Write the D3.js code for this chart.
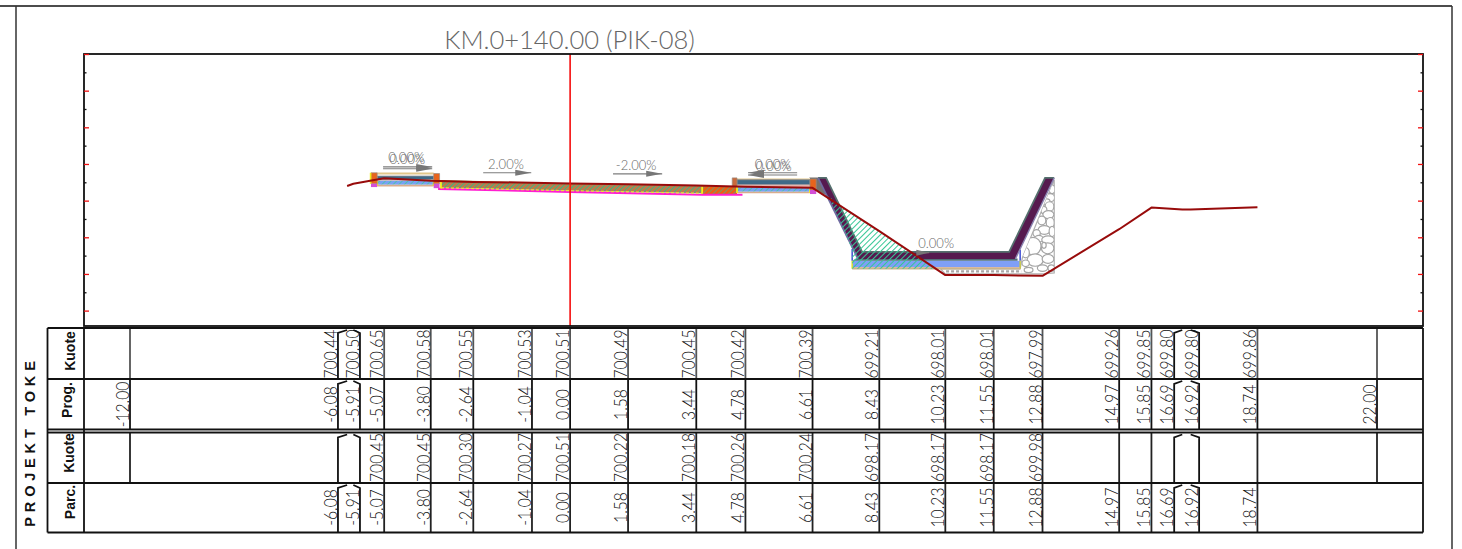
<!DOCTYPE html>
<html><head><meta charset="utf-8">
<script src="https://cdnjs.cloudflare.com/ajax/libs/d3/7.8.5/d3.min.js"></script>
<style>html,body{margin:0;padding:0;background:#fff;overflow:hidden}svg{display:block}</style>
</head><body><svg id="c" width="1462" height="549"></svg>
<script>
// ---------- data (offset in m, elevation in m) ----------
const title = "KM.0+140.00 (PIK-08)";
const tableOffsets = [-12,-6.08,-5.91,-5.07,-3.80,-2.64,-1.04,0,1.58,3.44,4.78,6.61,8.43,10.23,11.55,12.88,14.97,15.85,16.69,16.92,18.74,22];
const tableShown   = [-12,-6.33,-5.73,-5.07,-3.80,-2.64,-1.04,0,1.58,3.44,4.78,6.61,8.43,10.23,11.55,12.88,14.97,15.85,16.47,17.15,18.74,22];
const groundKuote  = [null,700.44,700.50,700.65,700.58,700.55,700.53,700.51,700.49,700.45,700.42,700.39,699.21,698.01,698.01,697.99,699.26,699.85,699.80,699.80,699.86,null];
const projectKuote = [null,null,null,700.45,700.45,700.30,700.27,700.51,700.22,700.18,700.26,700.24,698.17,698.17,698.17,699.98,null,null,null,null,null,null];
const parcOffsets  = [null,-6.08,-5.91,-5.07,-3.80,-2.64,-1.04,0,1.58,3.44,4.78,6.61,8.43,10.23,11.55,12.88,14.97,15.85,16.69,16.92,18.74,null];
const rowNames = ["Kuote","Prog.","Kuote","Parc."];
const redTicks = [704.04,703.04,702.04,701.04,700.04,699.04,698.04,697.04];
const blackTicks = [703.54,702.54,701.54,700.54,699.54,698.54,697.54];

const polyStones = [[13.20,700.60],[13.20,698.07],[12.90,698.04],[10.23,698.04],[10.10,698.18],[12.27,698.18],[12.33,698.48]];
const stones = [[13.14,700.35,.08,.12],[13.09,700.12,.12,.11],[13.00,700.00,.09,.09],[13.07,699.88,.12,.13],[12.92,699.78,.08,.10],[13.04,699.66,.15,.11],[12.86,699.50,.11,.12],[13.09,699.44,.11,.14],[12.93,699.24,.17,.12],[13.14,699.20,.08,.14],[12.72,699.15,.10,.10],[12.78,699.00,.12,.09],[13.03,698.97,.17,.11],[12.62,698.80,.22,.24],[13.02,698.74,.17,.15],[12.92,698.82,.06,.08],[12.42,698.62,.10,.14],[12.68,698.42,.22,.17],[13.03,698.45,.16,.12],[12.42,698.33,.10,.09],[12.88,698.20,.14,.09],[12.50,698.15,.12,.07],[13.12,698.20,.09,.09]];
const floorBlue = [[7.69,698.40],[12.27,698.40],[12.27,698.23],[7.69,698.23]];
const floorBase = [[7.69,698.23],[12.27,698.23],[12.27,698.18],[7.69,698.18]];
const floorTeal = [[7.80,698.46],[12.20,698.46],[12.20,698.40],[7.69,698.40]];
const capRight = [[6.52,700.67],[6.98,700.67],[7.15,700.30],[6.95,700.20],[6.70,700.33]];
const lining = [[6.76,700.66],[6.98,700.66],[7.96,698.64],[11.97,698.64],[12.95,700.66],[13.20,700.66],[12.14,698.45],[7.85,698.45]];
const fillHatch = [[7.23,700.01],[7.96,698.64],[9.30,698.64]];
const cutHatch = [[7.04,700.17],[7.23,700.01],[7.96,698.64],[9.30,698.64],[10.01,698.18],[7.69,698.18],[7.69,698.70]];
const road = [[-3.52,700.60],[0,700.51],[3.60,700.44],[3.60,700.24],[0,700.31],[-3.52,700.39]];
const roadEnd = [[3.60,700.44],[4.55,700.42],[4.55,700.21],[3.60,700.21]];
const roadMagenta = [[-3.60,700.36],[0,700.28],[3.60,700.20],[4.70,700.20]];
const walkLeft = {x0:-5.26,x1:-3.72,top:700.82,band:[700.71,700.61],blue:[700.58,700.47],base:700.44,curbTop:700.82,curbBot:700.50,magenta:700.41};
const walkRight = {x0:4.55,x1:6.54,top:700.66,band:[700.61,700.47],blue:[700.41,700.28],base:700.25,curbTop:700.63,curbBot:700.33,magenta:700.22};
const ground = [[-6.08,700.44],[-5.91,700.50],[-5.07,700.65],[-3.80,700.58],[-2.64,700.55],[-1.04,700.53],[0,700.51],[1.58,700.49],[3.44,700.45],[4.78,700.42],[6.61,700.39],[8.43,699.21],[10.23,698.01],[11.55,698.01],[12.88,697.99],[14.97,699.26],[15.85,699.85],[16.69,699.80],[16.92,699.80],[18.74,699.86]];
const slopeLabels = [["0.00%",-4.47,701.10],["0.00%",-4.44,701.04],["2.00%",-1.75,700.91],["-2.00%",1.80,700.88],["0.00%",5.52,700.91],["0.00%",5.55,700.85],["0.00%",9.98,698.75]];
const slopeArrows = [[-5.10,-3.76,700.96],[-5.10,-3.76,700.91],[-2.37,-1.06,700.80],[1.17,2.51,700.77],[6.19,4.85,700.80],[6.19,4.85,700.74],[9.44,9.79,698.62]];

// ---------- scales ----------
const x = d3.scaleLinear().domain([-12,22]).range([130,1377]);
const y = d3.scaleLinear().domain([704.04,696.62]).range([54,326]);
const line = d3.line().x(d=>x(d[0])).y(d=>y(d[1]));
const closed = pts => line(pts)+"Z";
const svg = d3.select("#c");
const defs = svg.append("defs");
const NUM = "Lato, 'Open Sans', sans-serif";

function hatch(id, bg, fg, w, sw){
  const p = defs.append("pattern").attr("id",id).attr("patternUnits","userSpaceOnUse")
    .attr("width",w).attr("height",w).attr("patternTransform","rotate(45)");
  if(bg) p.append("rect").attr("width",w).attr("height",w).attr("fill",bg);
  p.append("line").attr("x1",0).attr("x2",0).attr("y1",0).attr("y2",w).attr("stroke",fg).attr("stroke-width",sw);
}
hatch("hGreen",null,"#35c795",4,2);
hatch("hRoad","#c0794a","#3fb57f",3.6,2);
hatch("hOrange","#ea5f14","#5aa77f",3.6,1.4);
hatch("hBlue","#79a2f5","#43c8a0",4,1.6);

// ---------- sheet frame ----------
const G = svg.append("g");
const rule = (a,b,c,d,col,w)=>G.append("line").attr("x1",a).attr("y1",b).attr("x2",c).attr("y2",d).attr("stroke",col).attr("stroke-width",w);
rule(0,6,1452,6,"#111",1.3);
rule(16,6,16,549,"#333",1.5);
rule(1452,6,1452,549,"#333",1.5);

G.append("text").attr("x",569.5).attr("y",49).attr("text-anchor","middle")
  .attr("font-family",NUM).attr("font-weight",300).attr("font-size",25.5).attr("fill","#666").text(title);

// ---------- section drawing ----------
const poly = (pts,fill,stroke,sw)=>G.append("path").attr("d",closed(pts)).attr("fill",fill).attr("stroke",stroke||"none").attr("stroke-width",sw||0);
const path = (pts,stroke,sw,dash)=>G.append("path").attr("d",line(pts)).attr("fill","none").attr("stroke",stroke).attr("stroke-width",sw).attr("stroke-dasharray",dash||null);

defs.append("clipPath").attr("id","stoneClip").append("path").attr("d",closed(polyStones));
poly(polyStones,"#fff","#b0b0b0",1.2);
G.append("g").attr("clip-path","url(#stoneClip)").selectAll("ellipse").data(stones).join("ellipse")
  .attr("cx",d=>x(d[0])).attr("cy",d=>y(d[1]))
  .attr("rx",d=>x(d[2])-x(0)).attr("ry",d=>y(700-d[3])-y(700))
  .attr("fill","#fff").attr("stroke","#a5a5a5").attr("stroke-width",1.2);
path([[10.25,698.11],[12.30,698.11]],"#a8a8a8",2.2,"3 2");

poly(floorBlue,"#7f9ff7");
poly(floorBase,"#d9b9a0");
poly(floorTeal,"#4f6f78");
path([[7.69,698.72],[7.69,698.40]],"#2233cc",1.3);
path([[12.27,698.70],[12.27,698.40]],"#2233cc",1.3);
path([[7.69,698.40],[7.69,698.18]],"#e3e01e",1.4);
path([[12.27,698.40],[12.27,698.18]],"#c9c93a",1.4);
path(floorBase.slice(2),"#c8b48c",1.4);

poly(capRight,"#76706c");
poly(lining,"#561a4f");
path([lining[0],lining[1],lining[2],lining[3],lining[4],lining[5]],"#55706e",1.8);
path([lining[5],lining[6]],"#8a84b0",1.4);
path([lining[7],lining[0]],"#6e6aa0",1.8);

poly(fillHatch,"url(#hGreen)");
poly(cutHatch,"url(#hGreen)");

// road
poly(road,"url(#hRoad)");
poly(roadEnd,"url(#hOrange)");
path(roadMagenta,"#ff1fd0",2.2);
path(road.slice(3).concat([road[5]]).reverse(),"#e7e33a",1.2,"3 2");
[-3.52,0,3.60].forEach((o,i)=>path([[o,[700.58,700.49,700.42][i]],[o,[700.37,700.30,700.23][i]]],"#f2ee1a",1.8));

// sidewalks
function walk(w){
  poly([[w.x0,w.top],[w.x1,w.top],[w.x1,w.base],[w.x0,w.base]],"#fff");
  path([[w.x0,w.top-.04],[w.x1,w.top-.04]],"#e2c68a",1.8);
  poly([[w.x0,w.band[0]],[w.x1,w.band[0]],[w.x1,w.band[1]],[w.x0,w.band[1]]],"#3f6a88","#8d8d8d",.8);
  poly([[w.x0,w.band[1]],[w.x1,w.band[1]],[w.x1,w.blue[0]],[w.x0,w.blue[0]]],"#e7b3ad");
  poly([[w.x0,w.blue[0]],[w.x1,w.blue[0]],[w.x1,w.blue[1]],[w.x0,w.blue[1]]],"url(#hBlue)");
  path([[w.x0,w.base+.01],[w.x1,w.base+.01]],"#d9ad8e",1.6);
  path([[w.x0,w.blue[0]],[w.x0,w.base]],"#f0ec1a",1.8);
  path([[w.x1,w.blue[0]],[w.x1,w.base]],"#f0ec1a",1.8);
}
walk(walkLeft); walk(walkRight);
const curb = (a,b,t,bm,mag,col)=>{
  poly([[a,t],[b,t],[b,bm],[a,bm]],col||"#e8641c","#9a8a80",.7);
  poly([[a,bm],[b,bm],[b,mag],[a,mag]],"#d34fd6");
};
curb(-5.43,-5.26,700.80,700.50,700.41);
path([[-5.44,700.80],[-5.44,700.50]],"#f0ec1a",1.6);
curb(-3.72,-3.56,700.78,700.50,700.38);
curb(4.42,4.55,700.66,700.43,700.43,"#c96a3c");
curb(6.54,6.71,700.63,700.33,700.22);

// ground
path(ground,"#980b0b",2).attr("stroke-linejoin","round");

// slope labels and arrows
G.append("g").selectAll("text").data(slopeLabels).join("text")
  .attr("x",d=>x(d[1])).attr("y",d=>y(d[2])).attr("text-anchor","middle")
  .attr("font-family",NUM).attr("font-weight",300).attr("font-size",13).attr("fill","#666").text(d=>d[0]);
slopeArrows.forEach(a=>{
  const x0=x(a[0]),x1=x(a[1]),yy=y(a[2]),dir=x1>x0?1:-1,h=dir*Math.min(16,Math.abs(x1-x0));
  G.append("line").attr("x1",x0).attr("x2",x1).attr("y1",yy).attr("y2",yy).attr("stroke","#7d7d7d").attr("stroke-width",1.1);
  G.append("path").attr("d",`M${x1},${yy}L${x1-h},${yy-3}L${x1-h},${yy+3}Z`).attr("fill","#777");
});

// red axis
rule(x(0),54,x(0),326,"#f50d0d",1.6);

// ---------- plot frame and axes ----------
G.append("rect").attr("x",84).attr("y",54).attr("width",1339).attr("height",272).attr("fill","none").attr("stroke","#111").attr("stroke-width",1.8);
const axes = [[d3.axisRight(y),84],[d3.axisLeft(y),1423]];
axes.forEach(([ax,px])=>{
  [[redTicks,5,"#f01010"],[blackTicks,2.5,"#111"]].forEach(([vals,len,col])=>{
    const g = G.append("g").attr("transform",`translate(${px},0)`)
      .call(ax.tickValues(vals).tickSize(len).tickFormat(""));
    g.select(".domain").remove();
    g.selectAll(".tick line").attr("stroke",col).attr("stroke-width",1.3);
  });
});

// ---------- table ----------
const rows = [
 {top:328,bot:379,mid:354,  vals:groundKuote.map(v=>v==null?null:v.toFixed(2)), col:"#555", lines:tableOffsets.map(()=>true)},
 {top:379,bot:429.5,mid:404.5,vals:tableOffsets.map(v=>v.toFixed(2)), col:"#111", lines:tableOffsets.map(()=>true)},
 {top:432.5,bot:483,mid:457.5,vals:projectKuote.map(v=>v==null?null:v.toFixed(2)), col:"#222", lines:tableOffsets.map(()=>true)},
 {top:483,bot:532.5,mid:507.5,vals:parcOffsets.map(v=>v==null?null:v.toFixed(2)), col:"#222", lines:parcOffsets.map(v=>v!=null)}
];
const hdr = [[75,351],[72,400],[74,453],[75,502]];
rows.forEach((r,ri)=>{
  tableOffsets.forEach((o,i)=>{
    if(!r.lines[i]) return;
    const tx=x(o), sx=x(tableShown[i]);
    const chev = tx!==sx;
    const d = chev ? `M${tx},${r.top+2}L${sx},${r.top+5}V${r.bot}` : `M${sx},${r.top}V${r.bot}`;
    G.append("path").attr("d",d).attr("fill","none").attr("stroke",chev?"#111":r.col).attr("stroke-width",1.8);
    if(r.vals[i]!=null){
      G.append("text").attr("transform",`translate(${sx-1},${r.mid}) rotate(-90) scale(0.92,1)`).attr("text-anchor","middle")
        .attr("font-family",NUM).attr("font-weight",300).attr("font-size",17).attr("fill","#111").text(r.vals[i]);
    }
  });
  G.append("text").attr("transform",`translate(${hdr[ri][0]},${hdr[ri][1]}) rotate(-90)`).attr("text-anchor","middle")
    .attr("font-family","'Liberation Sans',Arial,sans-serif").attr("font-weight",700).attr("font-size",14).attr("fill","#111").text(rowNames[ri]);
});
[328,379,429.5,432.5,483,532.5].forEach(v=>rule(47.5,v,1423,v,"#111",1.8));
rule(47.5,431,1423,431,"#999",1.5);
rule(47.5,328,47.5,532.5,"#111",1.8);
rule(84,328,84,532.5,"#111",1.8);
rule(1423,328,1423,532.5,"#111",1.8);

G.append("text").attr("transform","translate(35,441.5) rotate(-90) scale(1.04,1.1)").attr("text-anchor","middle")
  .attr("font-family","'Liberation Sans',Arial,sans-serif").attr("font-weight",700).attr("font-size",14).attr("letter-spacing",4.6).attr("fill","#111")
  .text("PROJEKT TOKE");
</script></body></html>
